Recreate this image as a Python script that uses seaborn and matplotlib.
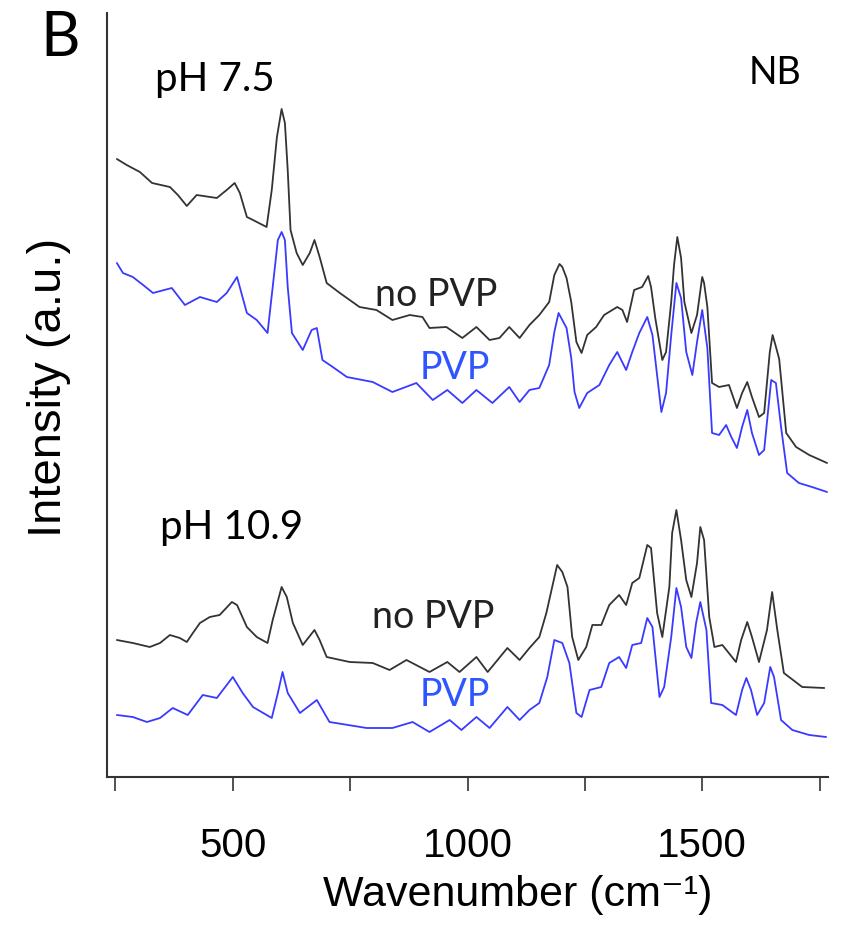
import numpy as np
import pandas as pd
import seaborn as sns
import matplotlib.pyplot as plt
from matplotlib.ticker import FixedLocator

# Raman spectra of NB (wavenumber in cm-1, intensity in a.u. with offsets)

# pH 7.5, no PVP
wn_75_nopvp = [253, 274, 302, 328, 366, 383, 402, 423, 466, 487, 504, 515, 530, 543, 572, 583,
               594, 604, 611, 617, 623, 636, 649, 664, 674, 685, 700, 728, 770, 806, 840, 877,
               904, 919, 955, 989, 1019, 1047, 1068, 1089, 1111, 1132, 1153, 1174, 1185, 1196,
               1202, 1211, 1221, 1232, 1243, 1255, 1274, 1291, 1319, 1330, 1340, 1355, 1372,
               1385, 1391, 1400, 1415, 1423, 1434, 1440, 1447, 1455, 1462, 1477, 1489, 1500,
               1504, 1511, 1521, 1536, 1557, 1574, 1585, 1596, 1606, 1621, 1632, 1644, 1650,
               1656, 1664, 1679, 1700, 1728, 1766]
int_75_nopvp = [6.18, 6.12, 6.05, 5.94, 5.90, 5.82, 5.71, 5.82, 5.79, 5.87, 5.94, 5.84, 5.60,
                5.57, 5.50, 5.87, 6.40, 6.68, 6.54, 6.07, 5.47, 5.24, 5.12, 5.24, 5.37, 5.20,
                4.94, 4.84, 4.70, 4.67, 4.57, 4.62, 4.60, 4.49, 4.50, 4.39, 4.50, 4.37, 4.39,
                4.50, 4.39, 4.52, 4.62, 4.75, 5.02, 5.13, 5.10, 4.99, 4.75, 4.35, 4.24, 4.42,
                4.50, 4.62, 4.70, 4.67, 4.55, 4.87, 4.90, 5.01, 4.90, 4.59, 4.17, 4.25, 4.75,
                5.12, 5.40, 5.19, 4.75, 4.44, 4.62, 5.00, 4.94, 4.70, 3.94, 3.90, 3.92, 3.69,
                3.84, 3.95, 3.80, 3.60, 3.64, 4.25, 4.42, 4.32, 4.18, 3.44, 3.30, 3.22, 3.14]

# pH 7.5, PVP
wn_75_pvp = [253, 266, 287, 309, 330, 370, 398, 430, 466, 487, 509, 530, 551, 574, 585, 596,
             604, 611, 617, 626, 649, 668, 679, 691, 713, 743, 798, 840, 891, 926, 957, 989,
             1019, 1053, 1089, 1111, 1132, 1153, 1174, 1185, 1194, 1211, 1221, 1228, 1238,
             1255, 1281, 1302, 1319, 1338, 1351, 1366, 1383, 1394, 1413, 1423, 1434, 1445,
             1455, 1466, 1479, 1489, 1500, 1511, 1521, 1536, 1551, 1562, 1574, 1585, 1596,
             1606, 1621, 1632, 1647, 1657, 1668, 1681, 1706, 1734, 1766]
int_75_pvp = [5.14, 5.04, 5.00, 4.92, 4.84, 4.89, 4.72, 4.80, 4.75, 4.84, 5.00, 4.64, 4.57,
              4.44, 4.90, 5.37, 5.45, 5.37, 4.90, 4.44, 4.27, 4.47, 4.49, 4.17, 4.10, 4.00,
              3.95, 3.85, 3.94, 3.77, 3.87, 3.74, 3.87, 3.74, 3.90, 3.75, 3.87, 3.89, 4.12,
              4.45, 4.64, 4.49, 4.19, 3.85, 3.69, 3.84, 3.92, 4.12, 4.25, 4.07, 4.25, 4.44,
              4.60, 4.42, 3.65, 3.84, 4.42, 4.94, 4.79, 4.25, 4.02, 4.35, 4.67, 4.29, 3.44,
              3.42, 3.52, 3.40, 3.29, 3.50, 3.67, 3.44, 3.22, 3.27, 3.97, 3.94, 3.50, 3.04,
              2.94, 2.90, 2.85]

# pH 10.9, no PVP
wn_109_nopvp = [253, 287, 323, 345, 366, 387, 402, 415, 430, 451, 472, 498, 509, 530, 551,
                574, 585, 604, 615, 628, 649, 674, 685, 700, 749, 798, 834, 870, 919, 957, 983,
                1019, 1043, 1085, 1111, 1132, 1153, 1168, 1179, 1191, 1202, 1213, 1223, 1236,
                1253, 1266, 1285, 1302, 1323, 1338, 1351, 1366, 1383, 1391, 1404, 1415, 1430,
                1436, 1445, 1455, 1466, 1477, 1489, 1496, 1504, 1515, 1526, 1543, 1572, 1583,
                1596, 1606, 1621, 1638, 1649, 1660, 1674, 1713, 1760]
int_109_nopvp = [1.37, 1.34, 1.30, 1.34, 1.42, 1.39, 1.35, 1.44, 1.54, 1.60, 1.62, 1.75, 1.72,
                 1.50, 1.40, 1.34, 1.57, 1.90, 1.80, 1.54, 1.32, 1.47, 1.37, 1.20, 1.15, 1.14,
                 1.07, 1.17, 1.05, 1.15, 1.05, 1.20, 1.05, 1.29, 1.17, 1.29, 1.40, 1.64, 1.87,
                 2.12, 2.05, 1.90, 1.40, 1.17, 1.30, 1.52, 1.52, 1.72, 1.82, 1.72, 1.94, 1.99,
                 2.32, 2.29, 1.64, 1.40, 1.90, 2.44, 2.67, 2.37, 1.97, 1.80, 2.14, 2.50, 2.37,
                 1.60, 1.30, 1.32, 1.15, 1.37, 1.55, 1.40, 1.15, 1.47, 1.85, 1.47, 1.04, 0.90,
                 0.89]

# pH 10.9, PVP
wn_109_pvp = [253, 287, 317, 345, 372, 404, 436, 466, 500, 521, 543, 583, 596, 606, 617, 643,
              679, 706, 785, 840, 883, 919, 962, 987, 1019, 1047, 1085, 1111, 1132, 1153, 1170,
              1185, 1202, 1217, 1232, 1243, 1260, 1285, 1302, 1323, 1338, 1351, 1370, 1383,
              1394, 1409, 1419, 1434, 1445, 1455, 1466, 1477, 1487, 1496, 1509, 1519, 1543,
              1572, 1585, 1594, 1604, 1617, 1632, 1645, 1653, 1668, 1692, 1728, 1764]
int_109_pvp = [0.62, 0.60, 0.55, 0.59, 0.69, 0.62, 0.82, 0.79, 1.00, 0.84, 0.70, 0.59, 0.84,
               1.05, 0.84, 0.64, 0.77, 0.55, 0.49, 0.49, 0.55, 0.45, 0.57, 0.47, 0.60, 0.49,
               0.70, 0.57, 0.67, 0.74, 1.00, 1.37, 1.34, 1.14, 0.64, 0.60, 0.87, 0.90, 1.14,
               1.20, 1.09, 1.32, 1.34, 1.59, 1.50, 0.80, 0.90, 1.40, 1.89, 1.70, 1.30, 1.19,
               1.54, 1.75, 1.47, 0.74, 0.72, 0.62, 0.87, 0.99, 0.87, 0.62, 0.74, 1.10, 1.00,
               0.57, 0.47, 0.42, 0.40]

x_ticks = [250, 500, 750, 1000, 1250, 1500, 1750]
x_tick_labels = ["", "500", "", "1000", "", "1500", ""]

black = "#333333"
blue = "#3a3aff"
blue_text = "#2f55ff"

sns.set_style("ticks")
plt.rcParams["font.family"] = ["Liberation Sans", "DejaVu Sans"]
plt.rcParams["text.color"] = "black"
plt.rcParams["axes.labelcolor"] = "black"

fig = plt.figure(figsize=(8.46, 9.36), dpi=100)
ax = fig.add_axes([107 / 846, 1 - 777 / 936, (828 - 107) / 846, (777 - 13) / 936])

sns.lineplot(x=wn_75_nopvp, y=int_75_nopvp, color=black, lw=1.3, ax=ax)
sns.lineplot(x=wn_75_pvp, y=int_75_pvp, color=blue, lw=1.3, ax=ax)
sns.lineplot(x=wn_109_nopvp, y=int_109_nopvp, color=black, lw=1.3, ax=ax)
sns.lineplot(x=wn_109_pvp, y=int_109_pvp, color=blue, lw=1.3, ax=ax)

ax.set_xlim(232, 1768)
ax.set_ylim(0, 7.64)
ax.xaxis.set_major_locator(FixedLocator(x_ticks))
ax.set_xticklabels(x_tick_labels)
ax.set_yticks([])
ax.tick_params(axis="x", direction="out", length=10, width=1.2, color=black,
               labelsize=29, labelcolor="black", pad=26)
sns.despine(ax=ax)
for side in ["left", "bottom"]:
    ax.spines[side].set_color(black)
    ax.spines[side].set_linewidth(1.5)

ax.set_xlabel("Wavenumber (cm⁻¹)", fontsize=31)
ax.xaxis.set_label_coords(0.569, -0.155)
ax.xaxis.label.set_va("center")
ax.set_ylabel("Intensity (a.u.)", fontsize=34)
ax.yaxis.set_label_coords(-0.08, 0.51)
ax.yaxis.label.set_va("center")

lab = dict(family=["Lato", "DejaVu Sans"], va="center", ha="left")
ax.text(334, 6.97, "pH 7.5", fontsize=29, color="black", **lab)
ax.text(1655, 7.04, "NB", fontsize=27, color="black", family=["Lato", "DejaVu Sans"],
        va="center", ha="center")
ax.text(802, 4.82, "no PVP", fontsize=27, color="#222222", **lab)
ax.text(898, 4.09, "PVP", fontsize=27, color=blue_text, **lab)
ax.text(345, 2.50, "pH 10.9", fontsize=29, color="black", **lab)
ax.text(796, 1.60, "no PVP", fontsize=27, color="#222222", **lab)
ax.text(898, 0.82, "PVP", fontsize=27, color=blue_text, **lab)

fig.text(40 / 846, 1 - 38 / 936, "B", fontsize=44, family=["Lato", "DejaVu Sans"],
         color="black", va="center", ha="left")

fig.savefig("out.png", dpi=100)
